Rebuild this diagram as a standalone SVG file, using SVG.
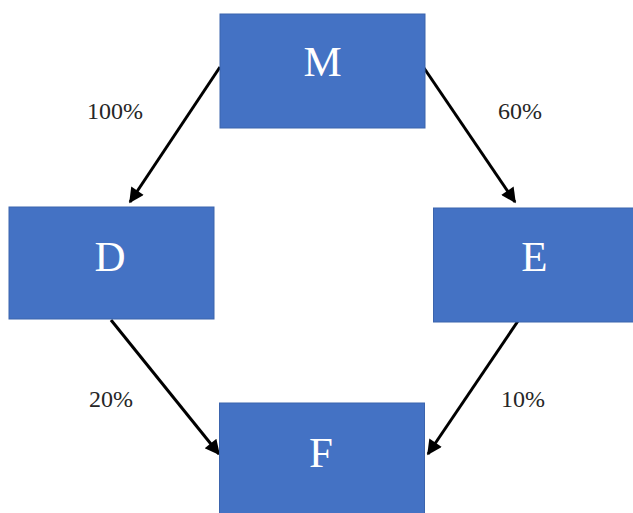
<svg xmlns="http://www.w3.org/2000/svg" width="633" height="513" viewBox="0 0 633 513">
<style>
.box{fill:#4472C4;stroke:#3B64AD;stroke-width:1}
.lbl{font-family:"Liberation Serif","Times New Roman",serif;font-size:43px;fill:#ffffff;text-anchor:middle}
.pct{font-family:"Liberation Serif","Times New Roman",serif;font-size:24px;fill:#262626;text-anchor:middle}
.con{stroke:#000;stroke-width:3;fill:none;marker-end:url(#ah)}
</style>
<defs>
<marker id="ah" viewBox="0 0 10 10" refX="9" refY="5" markerWidth="5.5" markerHeight="5" orient="auto" markerUnits="strokeWidth">
<path d="M0,0 L10,5 L0,10 z" fill="#000"/>
</marker>
</defs>
<g id="connectors">
<line class="con" x1="220" y1="67" x2="130" y2="202"/>
<line class="con" x1="424" y1="68" x2="515" y2="202"/>
<line class="con" x1="111" y1="320" x2="219" y2="454"/>
<line class="con" x1="518" y1="321" x2="428" y2="454"/>
</g>
<g id="node-M">
<rect class="box" x="220" y="14" width="205" height="114"/>
<text class="lbl" x="322.5" y="76">M</text>
</g>
<g id="node-D">
<rect class="box" x="9" y="207" width="205" height="112"/>
<text class="lbl" x="110" y="271">D</text>
</g>
<g id="node-E">
<rect class="box" x="433.5" y="208" width="205" height="114"/>
<text class="lbl" x="534.5" y="271">E</text>
</g>
<g id="node-F">
<rect class="box" x="219.5" y="403" width="205" height="115"/>
<text class="lbl" x="321" y="467">F</text>
</g>
<g id="labels">
<text class="pct" x="115" y="119">100%</text>
<text class="pct" x="520" y="119">60%</text>
<text class="pct" x="111" y="407">20%</text>
<text class="pct" x="523" y="407">10%</text>
</g>
</svg>
